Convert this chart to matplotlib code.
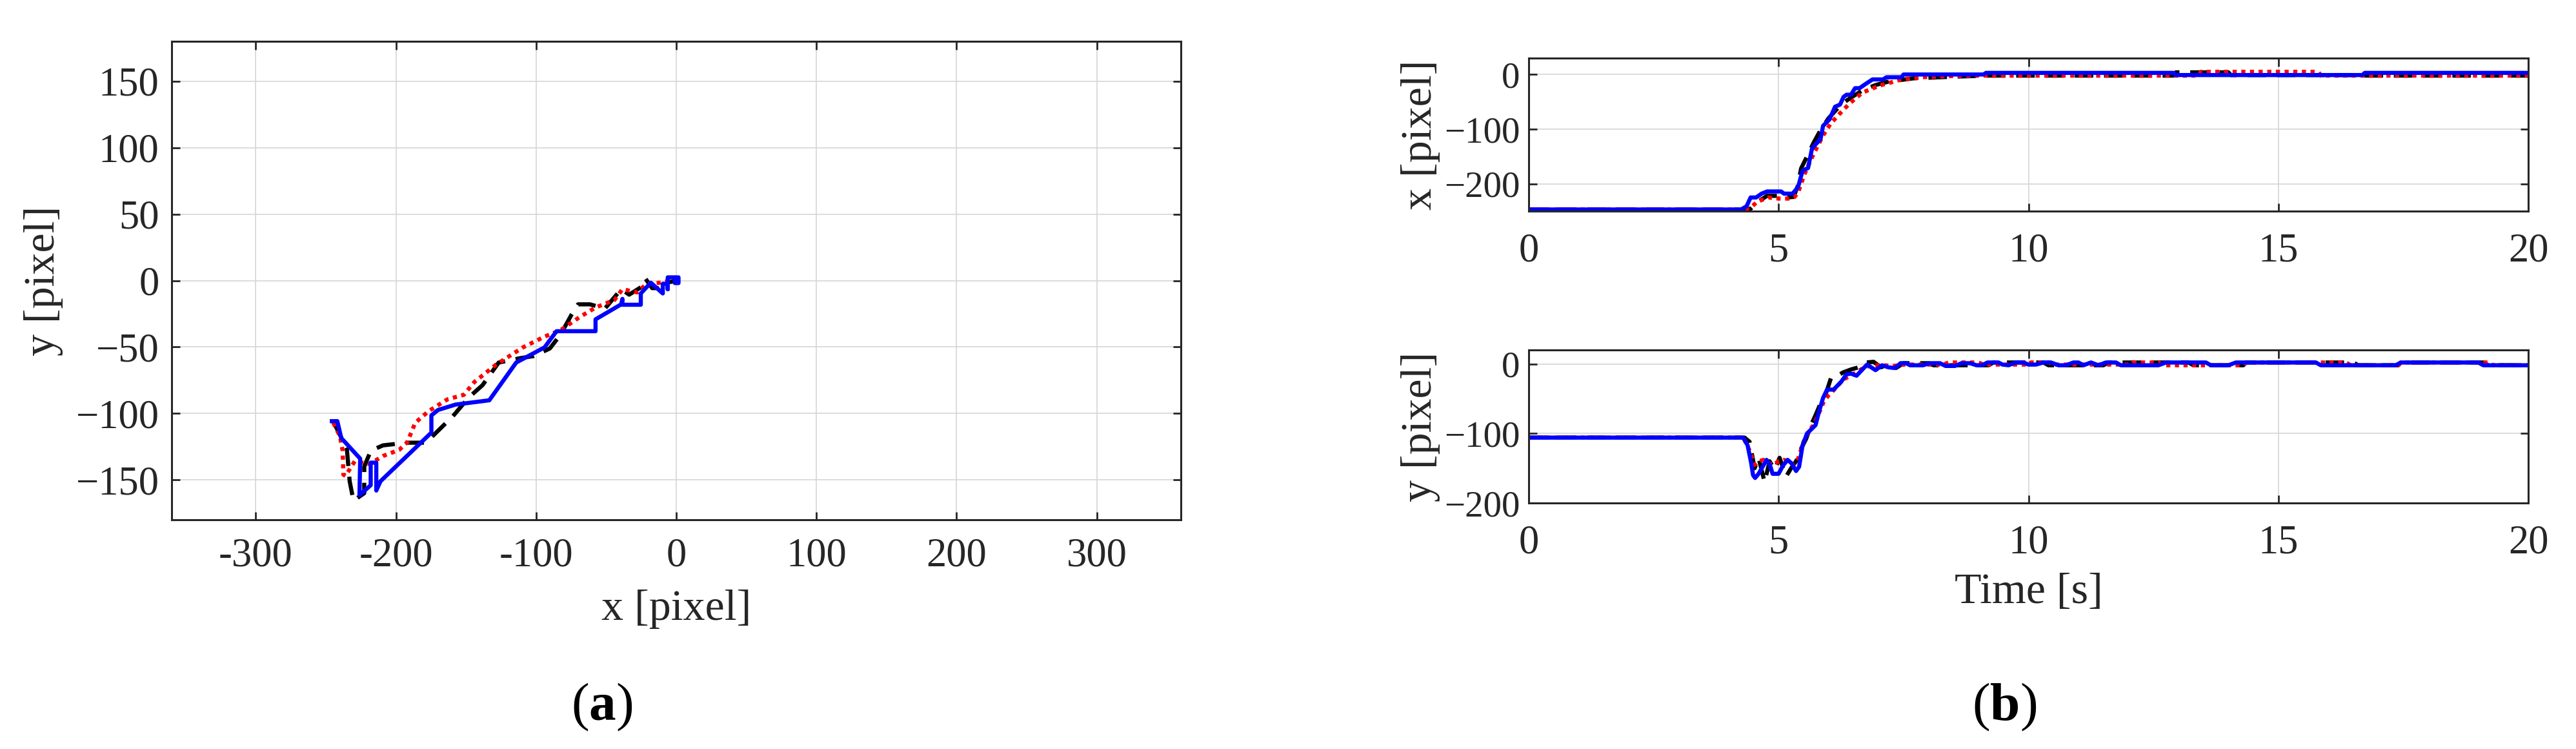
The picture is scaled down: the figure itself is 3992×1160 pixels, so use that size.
import matplotlib
matplotlib.use('Agg')
import matplotlib.pyplot as plt
import numpy as np

plt.rcParams['font.family'] = ['Liberation Serif', 'DejaVu Serif']
plt.rcParams['axes.unicode_minus'] = True
plt.rcParams['font.size'] = 44
plt.rcParams['mathtext.fontset'] = 'custom'
plt.rcParams['mathtext.rm'] = 'Liberation Serif'
plt.rcParams['mathtext.bf'] = 'Liberation Serif:bold'

# ---- (a) image-plane trajectory: x [pixel] vs y [pixel] ----
traj_blue_x = [-245.7, -241.8, -239.0, -225.5, -226.0, -218.0, -218.0, -214.0, -214.0, -211.0,
               -174.7, -174.7, -170.0, -157.4, -133.4, -114.2, -94.0, -85.4, -57.6, -57.6,
               -39.3, -38.4, -38.4, -25.3, -25.3, -18.2, -9.6, -9.6, -6.1, -6.1, -6.1,
               1.6, 1.6, -1.0, -1.0]
traj_blue_y = [-105.8, -105.8, -118.5, -134.0, -161.5, -154.0, -137.0, -137.0, -158.0, -151.0,
               -114.4, -101.5, -97.4, -93.3, -90.1, -61.7, -50.3, -38.1, -38.1, -29.2,
               -17.9, -13.8, -18.2, -18.2, -9.7, -1.6, -9.7, -2.4, -2.4, -6.5, 2.4,
               2.4, -1.9, -1.9, 1.6]

traj_black_x = [-244.7, -235.0, -233.0, -230.3, -222.6, -222.6, -217.9, -209.2, -192.0, -178.5,
                -173.7, -159.3, -147.8, -138.2, -126.7, -111.3, -101.7, -90.2, -82.5, -74.9,
                -70.1, -61.5, -50.9, -47.0, -39.3, -33.6, -25.0, -22.1, -17.2, -12.5, -5.8, 2.0]
traj_black_y = [-106.0, -126.6, -151.0, -165.6, -160.0, -140.0, -128.0, -124.0, -122.0, -122.0,
                -116.9, -102.0, -87.7, -78.7, -61.7, -58.4, -56.8, -51.1, -40.6, -26.0,
                -17.9, -17.9, -21.1, -16.2, -6.5, -10.6, -4.9, 1.6, -5.7, -5.7, -1.3, 0.0]

traj_red_x = [-244.7, -240.0, -238.0, -237.5, -236.0, -229.4, -218.8, -209.2, -197.7, -192.0,
              -186.2, -176.6, -163.1, -151.6, -144.0, -128.6, -109.4, -94.0, -82.5, -69.1,
              -57.6, -44.1, -38.4, -27.8, -21.1, -11.5, 3.9]
traj_red_y = [-107.0, -117.0, -128.0, -146.0, -147.0, -136.0, -138.0, -132.0, -127.4, -121.8,
              -107.0, -98.2, -89.3, -86.0, -76.3, -63.3, -50.3, -42.2, -37.3, -27.6,
              -20.3, -14.6, -6.5, -8.9, -2.4, -1.6, 1.6]

# ---- (b) time histories ----
t_bx = [0, 4.25, 4.36, 4.44, 4.55, 4.66, 4.77, 5.05, 5.11, 5.28, 5.39, 5.48, 5.59, 5.67, 5.84,
        5.89, 6.02, 6.13, 6.23, 6.30, 6.36, 6.45, 6.53, 6.62, 6.73, 6.88, 7.09, 7.16, 7.46,
        7.50, 9.10, 9.15, 12.90, 12.95, 16.68, 16.73, 20]
blue_x = [-247, -247, -241, -225, -225, -218, -214, -214, -218, -218, -206, -176, -171, -135, -118,
          -94, -82, -59, -55, -41, -37, -37, -25, -25, -18, -9, -9, -5, -5,
          0, 0, 3, 3, -1, -1, 3, 3]

t_rx = [0, 4.30, 4.45, 4.57, 4.79, 5.00, 5.20, 5.32, 5.39, 5.52, 5.65, 5.78, 5.90, 6.04, 6.23,
        6.42, 6.68, 7.03, 7.42, 7.85, 8.41, 8.90, 13.40, 13.45, 15.80, 15.85, 20]
red_x = [-247, -247, -243, -233, -225, -227, -227, -224, -216, -182, -155, -131, -110, -90, -71,
         -53, -33, -20, -10, -5, -3, -2, -2, 5, 5, -2, -2]

t_kx = [0, 4.35, 4.45, 4.60, 4.77, 4.98, 5.15, 5.30, 5.38, 5.45, 5.58, 5.70, 5.85, 6.00, 6.25,
        6.45, 6.70, 6.95, 7.20, 7.70, 8.50, 9.20, 12.90, 12.95, 14.00, 14.05, 16.70, 16.75, 20]
black_x = [-247, -247, -245, -232, -222, -222, -225, -224, -205, -172, -148, -125, -100, -80, -55,
           -42, -28, -19, -13, -7, -4, -2, -2, 4, 4, -1, -1, -2, -2]

t_by = [0, 4.29, 4.38, 4.45, 4.49, 4.53, 4.60, 4.68, 4.76, 4.83, 4.88, 5.00, 5.09, 5.18, 5.26,
        5.35, 5.41, 5.48, 5.57, 5.74, 5.80, 5.89, 5.97, 6.10, 6.25, 6.36, 6.45, 6.56, 6.77,
        6.94, 7.07, 7.20, 7.33, 7.44, 7.55, 7.63, 7.89, 8.02, 8.23, 8.34, 8.53, 8.66, 8.83,
        8.96, 9.07, 9.18, 9.40, 9.48, 9.60, 9.75, 9.90, 10.00, 10.15, 10.30, 10.45, 10.60,
        10.75, 10.90, 11.00, 11.10, 11.25, 11.40, 11.55, 11.75, 11.85, 12.60, 12.75, 13.55,
        13.65, 14.00, 14.15, 15.75, 15.85, 17.35, 17.45, 19.00, 19.10, 20]
blue_y = [-106, -106, -117, -142, -160, -164, -158, -148, -138, -146, -158, -158, -146, -138, -143,
          -154, -148, -117, -100, -88, -71, -49, -37, -37, -26, -15, -14, -17, -1,
          -9, -2, -5, -6, 1, 1, -2, -2, 1, 1, -3, -3, 1, 1,
          -2, -2, 2, 2, -1, -2, 2, 2, -1, -1, 2, 2, -2,
          -2, 2, 2, -2, 2, -2, 2, 2, -2, -2, 2, 2,
          -2, -2, 2, 2, -2, -2, 2, 2, -2, -2]

t_ry = [0, 4.30, 4.42, 4.52, 4.60, 4.70, 4.80, 4.90, 5.00, 5.10, 5.20, 5.30, 5.40, 5.50, 5.60,
        5.70, 5.80, 5.90, 6.00, 6.10, 6.20, 6.30, 6.45, 6.60, 6.75, 6.90, 7.10, 7.30, 7.50,
        8.30, 8.40, 9.00, 9.10, 10.00, 10.05, 10.40, 10.50, 12.05, 12.10, 12.60, 12.70, 14.30,
        14.35, 16.35, 16.45, 17.40, 17.45, 19.20, 19.30, 20]
red_y = [-106, -106, -125, -145, -140, -138, -143, -145, -140, -138, -140, -145, -135, -112, -97,
         -88, -72, -55, -45, -38, -30, -22, -17, -10, -4, -2, -2, -3, -1,
         -1, 2, 2, -1, -1, 2, 2, -1, -1, 2, 2, -2, -2,
         2, 2, -2, -2, 2, 2, -2, -2]

t_ky = [0, 4.32, 4.42, 4.52, 4.60, 4.72, 4.82, 4.92, 5.02, 5.15, 5.25, 5.35, 5.45, 5.55, 5.65,
        5.75, 5.85, 5.95, 6.05, 6.15, 6.30, 6.45, 6.60, 6.75, 6.90, 7.05, 7.20, 7.35, 7.50,
        8.00, 8.10, 9.20, 9.30, 10.30, 10.40, 11.50, 11.60, 13.20, 13.30, 14.30, 14.35, 16.50,
        16.60, 17.40, 17.45, 19.10, 19.20, 20]
black_y = [-106, -106, -112, -150, -135, -170, -140, -152, -135, -162, -150, -140, -122, -108, -88,
           -72, -55, -42, -20, -18, -12, -8, -5, 2, 3, -5, 0, -6, 1,
           1, -2, -2, 2, 2, -2, -2, 2, 2, -2, -2, 2, 2,
           -2, -2, 2, 2, -2, -2]

traj_xticks = [-300, -200, -100, 0, 100, 200, 300]
traj_yticks = [-150, -100, -50, 0, 50, 100, 150]
time_ticks = [0, 5, 10, 15, 20]
hist_yticks = [-200, -100, 0]

W, H = 3992, 1160
fig = plt.figure(figsize=(W / 100, H / 100), dpi=100)

FRAME = '#262626'
LW = 4.6


def box(l, t, r, b):
    return [l / W, 1 - b / H, (r - l) / W, (b - t) / H]


def style(ax):
    for s in ax.spines.values():
        s.set_color(FRAME)
        s.set_linewidth(2.2)
    ax.tick_params(direction='in', length=9, width=2, color=FRAME, top=True, right=True,
                   labelcolor=FRAME, labelsize=45, pad=14)
    ax.grid(True, color='#d6d6d6', linewidth=1.2)
    ax.set_axisbelow(True)


def draw(ax, xs, ys, kind):
    if kind == 'black':
        ax.plot(xs, ys, color='black', lw=LW, dashes=(4.5, 2.6))
    elif kind == 'red':
        ax.plot(xs, ys, color='#ff0000', lw=LW, dashes=(1, 1.1))
    else:
        ax.plot(xs, ys, color='#0000ff', lw=LW)


# (a)
ax1 = fig.add_axes(box(266, 64, 1830, 805))
style(ax1)
draw(ax1, traj_black_x, traj_black_y, 'black')
draw(ax1, traj_red_x, traj_red_y, 'red')
draw(ax1, traj_blue_x, traj_blue_y, 'blue')
ax1.set_xlim(-360, 360)
ax1.set_ylim(-180, 180)
ax1.set_xticks(traj_xticks)
ax1.set_xticklabels([str(v) for v in traj_xticks])
ax1.set_yticks(traj_yticks)
ax1.set_xlabel('x [pixel]', fontsize=49, color=FRAME, labelpad=16)
ax1.set_ylabel('y [pixel]', fontsize=49, color=FRAME, labelpad=14)
ax1.tick_params(axis='x', pad=20)

# (b) top: x vs time
ax2 = fig.add_axes(box(2369, 90, 3918, 327))
style(ax2)
draw(ax2, t_kx, black_x, 'black')
draw(ax2, t_rx, red_x, 'red')
draw(ax2, t_bx, blue_x, 'blue')
ax2.set_xlim(0, 20)
ax2.set_ylim(-250, 30)
ax2.set_xticks(time_ticks)
ax2.set_yticks(hist_yticks)
ax2.tick_params(axis='x', pad=24)
ax2.tick_params(axis='y', labelsize=41, pad=10)
ax2.set_ylabel('x [pixel]', fontsize=49, color=FRAME, labelpad=4)

# (b) bottom: y vs time
ax3 = fig.add_axes(box(2369, 542, 3918, 779))
style(ax3)
draw(ax3, t_ky, black_y, 'black')
draw(ax3, t_ry, red_y, 'red')
draw(ax3, t_by, blue_y, 'blue')
ax3.set_xlim(0, 20)
ax3.set_ylim(-200, 20)
ax3.set_xticks(time_ticks)
ax3.set_yticks(hist_yticks)
ax3.tick_params(axis='x', pad=24)
ax3.tick_params(axis='y', labelsize=41, pad=10)
ax3.set_xlabel('Time [s]', fontsize=49, color=FRAME, labelpad=12)
ax3.set_ylabel('y [pixel]', fontsize=49, color=FRAME, labelpad=4)

fig.text(933 / W, 1 - 1095 / H, r'($\mathbf{a}$)', fontsize=60, ha='center', va='center')
fig.text(3106 / W, 1 - 1095 / H, r'($\mathbf{b}$)', fontsize=60, ha='center', va='center')

fig.savefig('out.png', dpi=100)
